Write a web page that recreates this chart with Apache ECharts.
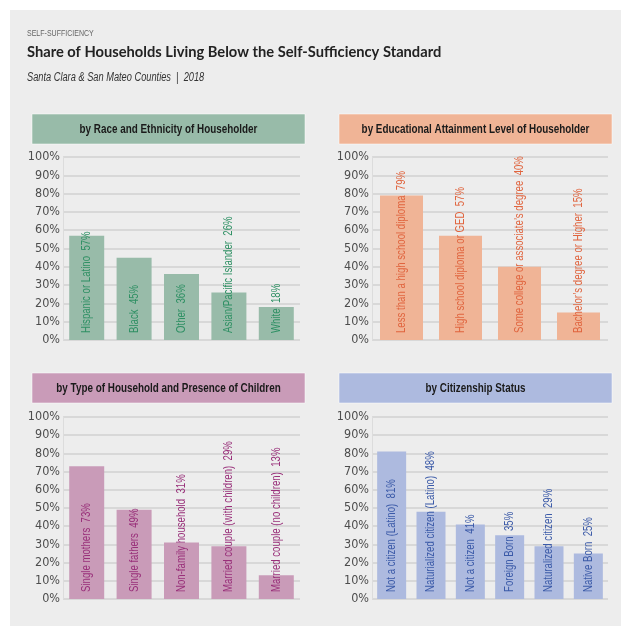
<!DOCTYPE html>
<html>
<head>
<meta charset="utf-8">
<script src="https://cdn.jsdelivr.net/npm/echarts@6/dist/echarts.min.js"></script>
<style>
  html, body { margin: 0; padding: 0; background: #fff; }
  #chart { width: 621px; height: 626px; }
</style>
</head>
<body>
<div id="chart"></div>
<script>
// 各面板的数据
var raceCats = ['Hispanic or Latino', 'Black', 'Other', 'Asian/Pacific Islander', 'White'];
var raceVals = [57, 45, 36, 26, 18];
var eduCats = ['Less than a high school diploma', 'High school diploma or GED', 'Some college or associate\u2019s degree', 'Bachelor\u2019s degree or Higher'];
var eduVals = [79, 57, 40, 15];
var houseCats = ['Single mothers', 'Single fathers', 'Non-family household', 'Married couple (with children)', 'Married couple (no children)'];
var houseVals = [73, 49, 31, 29, 13];
var citCats = ['Not a citizen (Latino)', 'Naturialized citizen (Latino)', 'Not a citizen', 'Foreign Born', 'Naturalized citizen', 'Native Born'];
var citVals = [81, 48, 41, 35, 29, 25];
var panelTitles = ['by Race and Ethnicity of Householder', 'by Educational Attainment Level of Householder',
    'by Type of Household and Presence of Children', 'by Citizenship Status'];

var narrow = "'Liberation Sans Narrow', 'DejaVu Sans Condensed', sans-serif";
var sans = "'Liberation Sans', Arial, sans-serif";
var squeeze = 0.77;   //横向压缩, 模拟窄体字
var panels = [
    { cats: raceCats, vals: raceVals, bar: '#98bba9', text: '#2f9064', x: 63, w: 237, y: 157, h: 183, bw: 35, hx: 32, hy: 114 },
    { cats: eduCats, vals: eduVals, bar: '#f0b496', text: '#e0653f', x: 372, w: 236, y: 157, h: 183, bw: 43, hx: 339, hy: 114 },
    { cats: houseCats, vals: houseVals, bar: '#c99bb8', text: '#99307a', x: 63, w: 237, y: 417, h: 182, bw: 35, hx: 32, hy: 373 },
    { cats: citCats, vals: citVals, bar: '#adbadf', text: '#3b5aa8', x: 372, w: 236, y: 417, h: 182, bw: 29, hx: 339, hy: 373 }
];

// 竖排标签, 从柱底向上
function labelRenderer(p) {
    return function (params, api) {
        var idx = params.dataIndex;
        var pt = api.coord([api.value(0), 0]);
        return {
            type: 'text', x: pt[0], y: pt[1] - 7, rotation: Math.PI / 2, scaleX: squeeze,
            style: {
                text: p.cats[idx] + '  ' + p.vals[idx] + '%', fill: p.text,
                font: '12.5px ' + sans, align: 'left', verticalAlign: 'middle'
            }
        };
    };
}

var myChart = echarts.init(document.getElementById('chart'));
var option = {
    animation: false,
    grid: [], xAxis: [], yAxis: [], series: [],
    graphic: [
        { type: 'rect', shape: { x: 10, y: 10, width: 611, height: 616 }, style: { fill: '#ededed' }, z: -10 },
        { type: 'text', x: 27, y: 34, scaleX: 0.78, style: { text: 'SELF-SUFFICIENCY', fill: '#666', font: '9px ' + sans, verticalAlign: 'middle' } },
        { type: 'text', x: 27, y: 52, style: { text: 'Share of Households Living Below the Self-Sufficiency Standard', fill: '#222', font: "bold 14.7px 'Lato', sans-serif", verticalAlign: 'middle' } },
        { type: 'text', x: 27, y: 78, scaleX: 0.74, style: { text: 'Santa Clara & San Mateo Counties  |  2018', fill: '#333', font: 'italic 12.5px ' + sans, verticalAlign: 'middle' } }
    ]
};

for (let i = 0; i < panels.length; i++) {
    var p = panels[i];
    option.grid.push({ left: p.x, top: p.y, width: p.w, height: p.h });
    option.xAxis.push({
        type: 'category', gridIndex: i, data: p.cats,
        axisLine: { show: false }, axisTick: { show: false }, axisLabel: { show: false }
    });
    option.yAxis.push({
        type: 'value', gridIndex: i, min: 0, max: 100, interval: 10,
        axisLine: { show: true, lineStyle: { color: '#dcdcdc', width: 1 } },
        axisTick: { show: false },
        axisLabel: { formatter: '{value}%', color: '#4d4d4d', fontSize: 12.5, fontFamily: narrow, margin: 3 },
        splitLine: { lineStyle: { color: '#d8d8d8', width: 2 } }
    });
    option.series.push({
        type: 'bar', xAxisIndex: i, yAxisIndex: i, data: p.vals, barWidth: p.bw,
        itemStyle: { color: p.bar }
    });
    option.series.push({
        type: 'custom', xAxisIndex: i, yAxisIndex: i, z: 5,
        data: p.vals.map(function (v, j) { return [j, v]; }),
        renderItem: labelRenderer(p)
    });
    //面板标题
    option.graphic.push({
        type: 'rect', shape: { x: p.hx, y: p.hy, width: 273, height: 30 },
        style: { fill: p.bar, stroke: 'rgba(255,255,255,0.5)', lineWidth: 1 }
    });
    option.graphic.push({
        type: 'text', x: p.hx + 136.5, y: p.hy + 15, scaleX: 0.76,
        style: { text: panelTitles[i], fill: '#1a1a1a', font: 'bold 13px ' + sans, align: 'center', verticalAlign: 'middle' }
    });
}
myChart.setOption(option);
</script>
</body>
</html>
